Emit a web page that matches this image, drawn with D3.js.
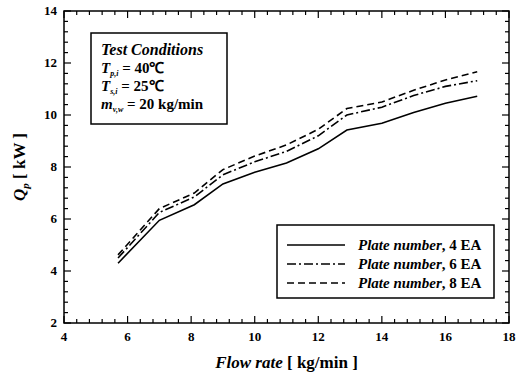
<!DOCTYPE html>
<html lang="en">
<head>
  <meta charset="UTF-8">
  <title>Plate heat exchanger capacity</title>
  <script src="https://d3js.org/d3.v7.min.js"></script>
  <style>
    body { margin: 0; background: #fff; }
    svg text { font-family: "Liberation Serif", serif; }
  </style>
</head>
<body>
<div id="chart"></div>
<script>
  // flow rate (kg/min)
  const flowRate = [5.7, 7.0, 8.1, 9.0, 10.0, 11.0, 12.0, 12.9, 14.0, 15.0, 16.0, 17.0];
  // Q_p (kW) for each plate number
  const plate4 = [4.30, 5.95, 6.55, 7.35, 7.80, 8.15, 8.70, 9.42, 9.68, 10.10, 10.45, 10.72];
  const plate6 = [4.50, 6.25, 6.85, 7.70, 8.20, 8.60, 9.20, 10.00, 10.30, 10.75, 11.10, 11.32];
  const plate8 = [4.62, 6.40, 7.00, 7.90, 8.42, 8.85, 9.45, 10.25, 10.50, 10.95, 11.35, 11.66];
  const seriesNames = ["4 EA", "6 EA", "8 EA"];
  const xTicks = [4, 6, 8, 10, 12, 14, 16, 18];
  const yTicks = [2, 4, 6, 8, 10, 12, 14];

  const W = 524, H = 382;
  const m = {left: 64, right: 15, top: 11, bottom: 59};

  const svg = d3.select("#chart").append("svg")
    .attr("width", W).attr("height", H)
    .attr("font-weight", "bold");

  const x = d3.scaleLinear().domain([4, 18]).range([m.left, W - m.right]);
  const y = d3.scaleLinear().domain([2, 14]).range([H - m.bottom, m.top]);

  const minorX = d3.range(4, 18.001, 0.4);
  const minorY = d3.range(2, 14.001, 0.4);

  // frame
  svg.append("rect")
    .attr("x", x(4)).attr("y", y(14))
    .attr("width", x(18) - x(4)).attr("height", y(2) - y(14))
    .attr("fill", "none").attr("stroke", "#000").attr("stroke-width", 1.5);

  // inward ticks on all four sides
  const tk = svg.append("g").attr("stroke", "#000").attr("stroke-width", 1.2);
  minorX.forEach(v => {
    const isMajor = Math.abs(v / 2 - Math.round(v / 2)) < 1e-6;
    const len = isMajor ? 7 : 4;
    tk.append("line").attr("x1", x(v)).attr("x2", x(v)).attr("y1", y(2)).attr("y2", y(2) - len);
    tk.append("line").attr("x1", x(v)).attr("x2", x(v)).attr("y1", y(14)).attr("y2", y(14) + len);
  });
  minorY.forEach(v => {
    const isMajor = Math.abs(v / 2 - Math.round(v / 2)) < 1e-6;
    const len = isMajor ? 7 : 4;
    tk.append("line").attr("y1", y(v)).attr("y2", y(v)).attr("x1", x(4)).attr("x2", x(4) + len);
    tk.append("line").attr("y1", y(v)).attr("y2", y(v)).attr("x1", x(18)).attr("x2", x(18) - len);
  });

  // tick labels
  svg.selectAll(".xl").data(xTicks).join("text")
    .attr("x", d => x(d)).attr("y", y(2) + 18)
    .attr("text-anchor", "middle").style("font-size", "13px")
    .text(d => d);
  svg.selectAll(".yl").data(yTicks).join("text")
    .attr("x", x(4) - 7).attr("y", d => y(d) + 4)
    .attr("text-anchor", "end").style("font-size", "13px")
    .text(d => d);

  // axis titles
  const xt = svg.append("text")
    .attr("x", (x(4) + x(18)) / 2).attr("y", 368)
    .attr("text-anchor", "middle").style("font-size", "17px");
  xt.append("tspan").style("font-style", "italic").text("Flow rate");
  xt.append("tspan").text(" [ kg/min ]");

  const yt = svg.append("text")
    .attr("transform", `translate(25,${(y(2) + y(14)) / 2}) rotate(-90)`)
    .attr("text-anchor", "middle").style("font-size", "17px");
  yt.append("tspan").style("font-style", "italic").text("Q");
  yt.append("tspan").style("font-style", "italic").style("font-size", "11px").attr("dy", 4).text("p");
  yt.append("tspan").attr("dy", -4).text(" [ kW ]");

  // series
  const dashes = [null, "9,3,2,3", "7,4"];
  const data = [plate4, plate6, plate8];
  const line = d3.line().x(d => x(d[0])).y(d => y(d[1]));
  data.forEach((s, i) => {
    svg.append("path")
      .datum(flowRate.map((f, j) => [f, s[j]]))
      .attr("d", line)
      .attr("fill", "none").attr("stroke", "#000").attr("stroke-width", 1.6)
      .attr("stroke-dasharray", dashes[i]);
  });

  // test conditions box
  svg.append("rect").attr("x", 91).attr("y", 33).attr("width", 136).attr("height", 91)
    .attr("fill", "#fff").attr("stroke", "#000").attr("stroke-width", 1.5);
  svg.append("text").attr("x", 101).attr("y", 55).style("font-size", "16px")
    .style("font-style", "italic").text("Test Conditions");
  const cond = [["T", "p,i", " = 40℃"], ["T", "s,i", " = 25℃"], ["m", "v,w", " = 20 kg/min"]];
  cond.forEach((c, i) => {
    const t = svg.append("text").attr("x", 101).attr("y", 73 + i * 18).style("font-size", "15px");
    t.append("tspan").style("font-style", "italic").text(c[0]);
    t.append("tspan").style("font-style", "italic").style("font-size", "8px").attr("dy", 3).text(c[1]);
    t.append("tspan").attr("dy", -3).text(c[2]);
  });

  // legend
  svg.append("rect").attr("x", 277).attr("y", 225).attr("width", 217).attr("height", 73)
    .attr("fill", "#fff").attr("stroke", "#000").attr("stroke-width", 1.5);
  seriesNames.forEach((n, i) => {
    const ly = 245 + i * 19;
    svg.append("line").attr("x1", 287).attr("x2", 345).attr("y1", ly).attr("y2", ly)
      .attr("stroke", "#000").attr("stroke-width", 1.6).attr("stroke-dasharray", dashes[i]);
    const t = svg.append("text").attr("x", 358).attr("y", ly + 5).style("font-size", "15px");
    t.append("tspan").style("font-style", "italic").text("Plate number");
    t.append("tspan").text(", " + n);
  });
</script>
</body>
</html>
